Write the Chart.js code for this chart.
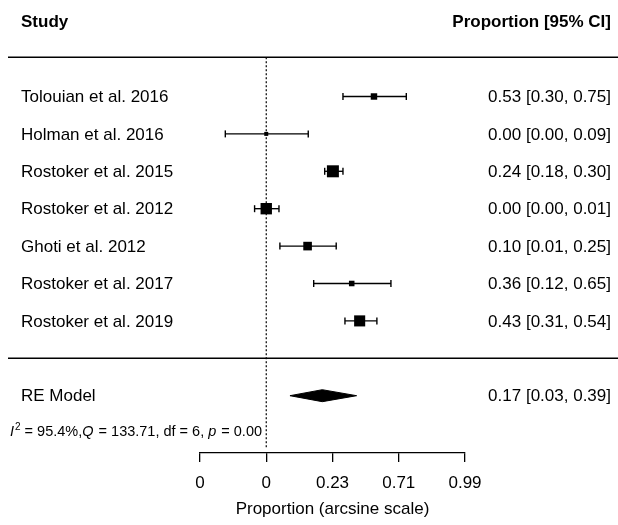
<!DOCTYPE html>
<html>
<head>
<meta charset="utf-8">
<script src="https://cdn.jsdelivr.net/npm/chart.js@4"></script>
<style>
html,body{margin:0;padding:0;background:#fff;}
canvas{display:block;}
</style>
</head>
<body>
<canvas id="c" width="618" height="525"></canvas>
<script>
// ---------------- data ----------------
const studies = ['Tolouian et al. 2016','Holman et al. 2016','Rostoker et al. 2015','Rostoker et al. 2012','Ghoti et al. 2012','Rostoker et al. 2017','Rostoker et al. 2019'];
// proportions (back-transformed) shown in the right column
const propEst = [0.53, 0.00, 0.24, 0.00, 0.10, 0.36, 0.43];
const propLo  = [0.30, 0.00, 0.18, 0.00, 0.01, 0.12, 0.31];
const propHi  = [0.75, 0.09, 0.30, 0.01, 0.25, 0.65, 0.54];
// estimates on the arcsine (plot) scale
const tEst = [0.813, 0.000, 0.503, 0.000, 0.312, 0.645, 0.705];
const tLo  = [0.579, -0.309, 0.441, -0.088, 0.103, 0.358, 0.594];
const tHi  = [1.057, 0.317, 0.579, 0.096, 0.528, 0.941, 0.835];
// relative study weights (%), encoded as marker size
const weights = [13.4, 12.6, 15.2, 15.0, 14.1, 13.1, 14.9];
// random-effects summary
const reLabel = 'RE Model';
const reProp = [0.17, 0.03, 0.39];
const reT = [0.423, 0.179, 0.682];
// axis
const tickValues = [-0.5, 0, 0.5, 1, 1.5];
const tickLabels = ['0', '0', '0.23', '0.71', '0.99'];
const hetero = {I2: '95.4%', Q: '133.71', df: '6', p: '0.00'};

// ---------------- layout / style ----------------
const FONT = '"Liberation Sans", Arial, Helvetica, sans-serif';
const LEFT_X = 21, RIGHT_X = 611, LINE_X0 = 8, HET_X = 10;
const HEADER_ROW = -1, TOP_LINE_ROW = -0.05, MID_LINE_ROW = 8, RE_ROW = 9, HET_ROW = 9.95, REF_END_ROW = 10.42;
const DIAMOND_H = 0.16;
const TEXT_DY = 1;

const wMin = Math.min(...weights), wMax = Math.max(...weights);
const markerSide = weights.map(w => 4 + (w - wMin) / (wMax - wMin) * 8);

const fmt = v => v.toFixed(2);

const datasets = [];
// study markers
datasets.push({
  data: tEst.map((v, i) => ({x: v, y: i + 1})),
  pointStyle: 'rect',
  pointRadius: markerSide.map(s => s / Math.SQRT2),
  pointBackgroundColor: '#000',
  pointBorderWidth: 0,
  showLine: false
});
// CI caps
datasets.push({
  data: tLo.map((v, i) => ({x: v, y: i + 1})).concat(tHi.map((v, i) => ({x: v, y: i + 1}))),
  pointStyle: 'line',
  rotation: 90,
  pointRadius: 3.5,
  pointBorderColor: '#000',
  pointBorderWidth: 1.4,
  showLine: false
});
// CI lines
tLo.forEach((lo, i) => {
  datasets.push({
    data: [{x: lo, y: i + 1}, {x: tHi[i], y: i + 1}],
    showLine: true, borderColor: '#000', borderWidth: 1.35, pointRadius: 0
  });
});
// diamond
datasets.push({
  data: [{x: reT[1], y: RE_ROW}, {x: reT[0], y: RE_ROW - DIAMOND_H}, {x: reT[2], y: RE_ROW}, {x: reT[0], y: RE_ROW + DIAMOND_H}, {x: reT[1], y: RE_ROW}],
  showLine: true, fill: 'shape', backgroundColor: '#000', borderColor: '#000', borderWidth: 1, pointRadius: 0, tension: 0
});
// reference line at 0
datasets.push({
  data: [{x: 0, y: TOP_LINE_ROW}, {x: 0, y: REF_END_ROW}],
  showLine: true, borderColor: '#000', borderWidth: 1.2, borderDash: [2, 2], pointRadius: 0
});

const textPlugin = {
  id: 'forestText',
  afterDraw(chart) {
    const ctx = chart.ctx, ys = chart.scales.y;
    ctx.save();
    ctx.fillStyle = '#000';
    ctx.strokeStyle = '#000';
    ctx.textBaseline = 'middle';
    // separators
    ctx.lineWidth = 1.4;
    [TOP_LINE_ROW, MID_LINE_ROW].forEach(r => {
      const y = ys.getPixelForValue(r);
      ctx.beginPath(); ctx.moveTo(LINE_X0, y); ctx.lineTo(chart.width, y); ctx.stroke();
    });
    // headers
    ctx.font = 'bold 17px ' + FONT;
    const hy = ys.getPixelForValue(HEADER_ROW) + TEXT_DY;
    ctx.textAlign = 'left'; ctx.fillText('Study', LEFT_X, hy);
    ctx.textAlign = 'right'; ctx.fillText('Proportion [95% CI]', RIGHT_X, hy);
    // study rows
    ctx.font = '17px ' + FONT;
    studies.forEach((s, i) => {
      const y = ys.getPixelForValue(i + 1) + TEXT_DY;
      ctx.textAlign = 'left'; ctx.fillText(s, LEFT_X, y);
      ctx.textAlign = 'right'; ctx.fillText(fmt(propEst[i]) + ' [' + fmt(propLo[i]) + ', ' + fmt(propHi[i]) + ']', RIGHT_X, y);
    });
    const ry = ys.getPixelForValue(RE_ROW) + TEXT_DY;
    ctx.textAlign = 'left'; ctx.fillText(reLabel, LEFT_X, ry);
    ctx.textAlign = 'right'; ctx.fillText(fmt(reProp[0]) + ' [' + fmt(reProp[1]) + ', ' + fmt(reProp[2]) + ']', RIGHT_X, ry);
    // heterogeneity
    const hey = ys.getPixelForValue(HET_ROW) + TEXT_DY;
    ctx.textAlign = 'left';
    const segs = [
      ['I', 'italic'], ['2', 'sup'], [' = ' + hetero.I2 + ',', 'normal'], ['Q', 'italic'],
      [' = ' + hetero.Q + ', df = ' + hetero.df + ', ', 'normal'], ['p', 'italic'], [' = ' + hetero.p, 'normal']
    ];
    let x = HET_X;
    segs.forEach(([t, st]) => {
      let dy = 0;
      if (st === 'italic') ctx.font = 'italic 14.5px ' + FONT;
      else if (st === 'sup') { ctx.font = '10px ' + FONT; dy = -5; }
      else ctx.font = '14.5px ' + FONT;
      ctx.fillText(t, x, hey + dy);
      x += ctx.measureText(t).width + (st === 'italic' ? 1 : 0);
    });
    ctx.restore();
  }
};

new Chart(document.getElementById('c'), {
  type: 'scatter',
  data: {datasets},
  options: {
    responsive: false,
    animation: false,
    events: [],
    layout: {autoPadding: false, padding: {left: 200, right: 153, top: 0, bottom: 0}},
    plugins: {legend: {display: false}, tooltip: {enabled: false}},
    scales: {
      x: {
        type: 'linear', position: 'bottom', min: -0.5, max: 1.5,
        afterBuildTicks: s => { s.ticks = tickValues.map(v => ({value: v})); },
        afterFit: s => { s.height = 72; },
        ticks: {
          padding: 10.8, color: '#000', font: {family: FONT, size: 17},
          autoSkip: false, maxRotation: 0,
          callback: (v, i) => tickLabels[i]
        },
        grid: {display: true, drawOnChartArea: false, drawTicks: true, tickLength: 9, color: '#000', lineWidth: 1.3},
        border: {display: true, color: '#000', width: 1.3},
        title: {display: true, text: 'Proportion (arcsine scale)', color: '#000', font: {family: FONT, size: 17}, padding: {top: 0, bottom: 5}}
      },
      y: {type: 'linear', reverse: true, min: -1.58, max: 10.532, display: false}
    }
  },
  plugins: [textPlugin]
});
</script>
</body>
</html>
